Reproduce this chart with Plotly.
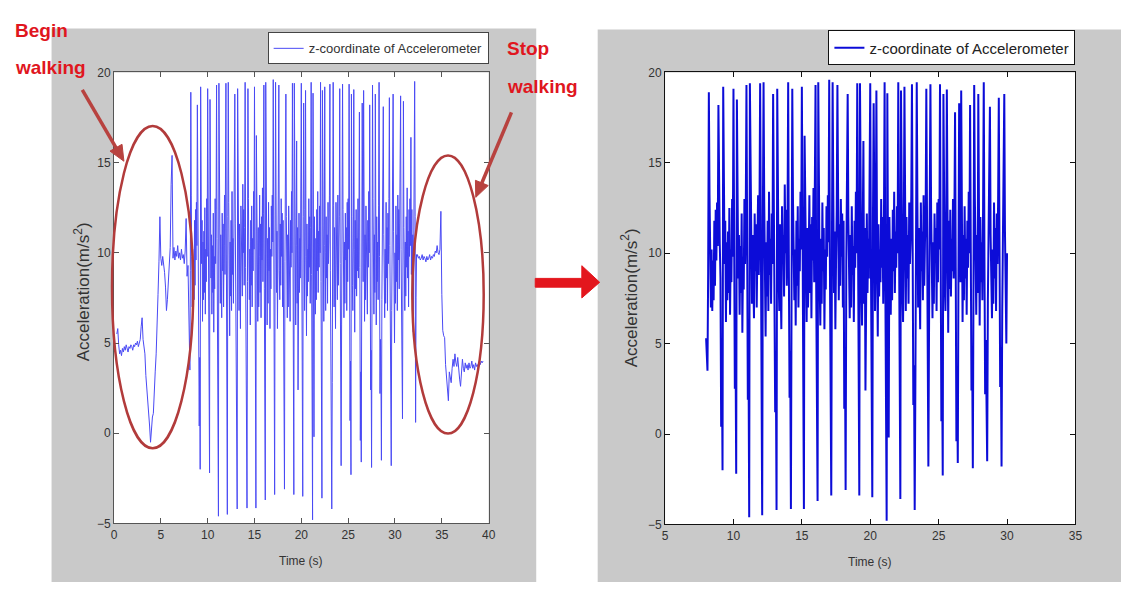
import math
import plotly.graph_objects as go

W, H = 1128, 589

# z-axis acceleration while standing, before the first step (10 Hz, from t = 0.3 s)
rest_before_fs = 10.0
rest_before_t0 = 0.3
rest_before_z = [
    5.5, 5.8, 4.9, 4.4, 4.6, 4.3, 4.7,
    4.5, 4.8, 4.6, 4.9, 4.7, 4.5, 4.8, 4.7, 4.9, 4.8,
    4.6, 4.9, 4.8, 5.0, 4.9, 5.1, 4.8, 5.0, 5.2, 5.9,
    6.4, 5.2, 4.6, 4.4, 3.2, 2.6, 1.8, 1.2, 0.4, -0.5,
    0.6, 0.9, 1.1, 2.6, 3.4, 4.4, 5.6, 7.7, 9.5, 12.0,
    9.7, 9.3, 9.8, 9.4, 8.9, 8.1, 6.8, 7.4, 8.6, 9.5,
    10.3, 13.8, 15.4, 9.7, 10.3, 9.6, 10.1, 9.8, 10.4, 9.7,
    10.0, 9.6, 10.2, 9.7, 9.9, 9.4, 10.1, 11.9, 8.7, 9.3,
]

# z-axis acceleration while walking (20 Hz, from t = 8.0 s to 32.35 s), one row per stride
walk_fs = 20.0
walk_t0 = 8.0
walk_z = [
    5.3, 4.6, 3.5, 9.0, 18.9, 13.2, 9.8, 7.0, 10.2, 6.8, 9.6, 7.4, 11.8, 8.2, 12.4, 9.6, 12.8, 10.4, 18.2, 12.6, 10.5, 8.6, 0.4, 4.2,
    -2.0, 19.2, 12.6, 9.4, 11.8, 6.2, 10.6, 7.4, 11.2, 7.8, 12.5, 6.6, 10.2, 8.4, 13.0, 9.8, 19.1, 10.4, 2.5, 5.0,
    -2.2, 18.5, 11.8, 8.6, 11.0, 6.6, 10.4, 7.8, 12.2, 5.6, 9.8, 8.0, 13.0, 9.4, 12.4, 19.3, 10.8, 1.9, 4.4,
    -4.6, 19.4, 13.5, 9.0, 7.2, 11.0, 8.4, 6.4, 12.2, 9.0, 11.6, 7.0, 10.4, 13.2, 8.8, 12.0, 19.4, 9.6, 0.8,
    -4.5, 12.0, 19.45, 12.8, 8.6, 5.4, 10.6, 7.6, 11.8, 6.8, 13.4, 8.8, 10.8, 7.2, 12.2, 9.4, 18.8, 11.6, 6.8, 1.2, 3.6,
    -4.2, 19.1, 12.0, 8.8, 6.8, 11.6, 8.2, 5.8, 12.6, 9.4, 11.0, 7.6, 13.8, 10.0, 12.4, 8.2, 11.4, 19.45, 9.2, 2.0, 4.6,
    -4.15, 8.4, 19.1, 13.0, 9.6, 7.4, 10.2, 6.0, 11.8, 8.2, 12.6, 7.0, 10.8, 9.0, 13.4, 10.2, 19.2, 8.6, 1.5,
    -4.15, 16.5, 12.4, 8.8, 6.2, 11.4, 7.0, 9.8, 13.2, 7.8, 11.6, 6.4, 12.0, 9.6, 13.6, 8.4, 12.2, 19.3, 8.0, 0.9,
    -3.7, 19.45, 12.0, 8.4, 6.0, 10.8, 7.2, 12.8, 9.0, 11.4, 5.8, 10.2, 8.0, 12.6, 9.8, 13.2, 10.6, 19.6, 9.4, 2.6,
    -3.4, 10.6, 19.45, 13.2, 7.8, 11.2, 5.8, 9.6, 12.4, 19.3, 9.0, 7.4, 11.6, 8.2, 13.0, 9.8, 12.2, 7.0, 11.8, 1.4, 4.8,
    -3.1, 9.5, 14.0, 18.8, 12.0, 8.6, 6.4, 11.0, 7.0, 12.6, 8.8, 10.4, 6.2, 11.8, 9.2, 13.4, 10.0, 19.4, 11.2, 3.0,
    -3.4, 19.4, 11.0, 8.2, 6.0, 10.4, 16.2, 7.2, 11.4, 2.4, 9.6, 12.2, 7.8, 10.8, 8.6, 13.0, 19.4, 9.6, 1.0,
    -3.5, 12.0, 18.3, 12.4, 6.8, 10.6, 19.0, 9.8, 5.4, 11.6, 7.6, 10.2, 8.4, 13.0, 9.2, 12.0, 7.2, 11.4, 19.45, 8.8, 2.2,
    -4.8, 18.85, 10.4, -0.2, 12.0, 8.2, 6.6, 10.8, 7.4, 12.4, 9.0, 13.4, 7.8, 11.2, 9.2, 12.6, 10.0, 19.45, 8.4, 2.0,
    -3.6, 19.0, 12.2, 8.0, 6.2, 10.4, 19.2, 10.0, 6.8, 12.0, 8.6, 11.0, 7.2, 12.8, 9.4, 10.6, 13.2, 19.35, 9.0, 1.6, 3.8,
    -4.2, 2.8, 11.0, 19.45, 12.6, 7.0, 11.4, 8.6, 5.8, 12.8, 9.0, 11.2, 7.4, 13.2, 8.2, 10.6, 12.0, 19.1, 9.4, 1.8,
    -1.8, 6.0, 11.0, 19.35, 12.4, 8.8, 6.4, 10.6, 7.2, 12.2, 9.6, 11.4, 6.8, 12.8, 8.4, 13.0, 10.2, 19.35, 9.8, 0.7, 4.0,
    -2.3, 18.8, 12.0, 8.2, 6.8, 10.6, 19.05, 10.2, 5.6, 11.8, 8.0, 12.4, 7.6, 10.8, 9.0, 13.0, 8.6, 11.6, 17.8, 9.2, -0.4, 3.4,
    -1.6, 9.0, 18.3, 12.6, 8.4, 19.0, 9.4, 6.2, 11.0, 7.4, 12.6, 8.6, 10.8, 6.6, 11.8, 9.2, 13.4, 10.0, 18.2, 8.8, 2.4, 4.6,
    -1.9, 8.6, 19.3, 13.0, 8.8, 6.6, 11.0, 7.8, 18.8, 10.4, 6.0, 12.0, 8.4, 10.6, 7.4, 12.6, 19.45, 9.8, 2.2, 5.2, 3.0,
    -1.5, 7.4, 12.4, 14.8, 18.1, 11.0, 8.2, 6.4, 10.2, 7.2, 12.8, 8.6, 11.4, 6.8, 12.2, 9.4, 13.0, 18.6, 10.4, 2.6, 4.8,
    -1.8, 6.8, 12.4, 16.0, 18.8, 11.2, 7.4, 5.0, 10.0, 7.2, 12.6, 8.4, 11.0, 6.8, 13.2, 9.6, 12.4, 8.0, 11.6, 13.8, 18.7, 10.2, 4.0, 2.2,
    0.8, 9.6, 18.4, 11.4, 8.4, 6.8, 10.6, 7.6, 12.0, 9.2, 13.6, 8.6, 11.2, 7.0, 12.4, 9.8, 13.0, 10.4, 16.4, 8.8, 12.4, 7.4, 11.0, 5.6, 9.8, 13.6, 19.5, 12.0,
    0.6, 7.5, 9.9, 9.8,
]

# z-axis acceleration after stopping (10 Hz, from t = 32.4 s)
rest_after_fs = 10.0
rest_after_t0 = 32.4
rest_after_z = [
    9.9, 9.7, 9.8, 9.6, 9.7, 9.9, 9.6, 9.8, 9.7, 9.5,
    9.8, 9.6, 9.7, 9.9, 9.6, 9.8, 9.7, 9.9, 9.8, 10.1,
    10.0, 10.4, 10.0, 9.9, 10.2, 12.3, 7.7, 5.7, 5.4, 5.3,
    3.8, 2.9, 2.4, 1.8, 3.4, 2.9, 2.8, 3.6, 4.1, 3.7,
    4.4, 3.9, 3.7, 4.2, 3.4, 3.0, 2.6, 3.5, 4.1, 3.6,
    3.4, 3.9, 3.6, 3.8, 3.5, 3.9, 3.6, 3.7, 4.0, 3.6,
    3.8, 3.5, 3.9, 3.7, 3.8, 3.6, 3.9, 3.8, 4.0, 3.9, 4.0,
]

# the extracted walking segment ends here
segment_end = 30.0

x_ticks_full = [0, 5, 10, 15, 20, 25, 30, 35, 40]
x_ticks_walk = [5, 10, 15, 20, 25, 30, 35]
y_ticks = [-5, 0, 5, 10, 15, 20]

legend_label = "z-coordinate of Accelerometer"
x_title = "Time (s)"
y_title = "Acceleration(m/s<sup>2</sup>)"


def times(t0, fs, values):
    return [round(t0 + i / fs, 3) for i in range(len(values))]


walk_t = times(walk_t0, walk_fs, walk_z)
full_t = (times(rest_before_t0, rest_before_fs, rest_before_z) + walk_t
          + times(rest_after_t0, rest_after_fs, rest_after_z))
full_z = rest_before_z + walk_z + rest_after_z

seg_t = [t for t in walk_t if t <= segment_end + 1e-9]
seg_z = walk_z[:len(seg_t)]


def px(x):
    return x / W


def py(y):
    return 1 - y / H


# plot boxes in pixels: (left, right, top, bottom)
box_l = (112, 490, 67, 529)
box_r = (668, 1082, 67, 530)

fig = go.Figure()
fig.add_trace(go.Scatter(
    x=full_t, y=full_z, mode="lines", name=legend_label,
    line=dict(color="#4a4af4", width=1), xaxis="x", yaxis="y", legend="legend",
))
fig.add_trace(go.Scatter(
    x=seg_t, y=seg_z, mode="lines", name=legend_label,
    line=dict(color="#0c0cd8", width=2), xaxis="x2", yaxis="y2", legend="legend2",
))

base_font = "Liberation Sans, Arial, sans-serif"
tick_font = dict(family=base_font, size=12, color="#333333")


def axis_style(line_color):
    return dict(
        showline=True, linecolor=line_color, linewidth=1, mirror="ticks",
        ticks="inside", ticklen=5, tickcolor=line_color, tickwidth=1,
        showgrid=False, zeroline=False, tickfont=tick_font,
    )


fig.update_layout(
    width=W, height=H,
    margin=dict(l=0, r=0, t=0, b=0),
    paper_bgcolor="white", plot_bgcolor="white",
    xaxis=dict(domain=[px(box_l[0]), px(box_l[1])], range=[0, 40],
               tickvals=x_ticks_full, anchor="y", **axis_style("#555555")),
    yaxis=dict(domain=[py(box_l[3]), py(box_l[2])], range=[-5, 20],
               tickvals=y_ticks, anchor="x", **axis_style("#555555")),
    xaxis2=dict(domain=[px(box_r[0]), px(box_r[1])], range=[5, 35],
                tickvals=x_ticks_walk, anchor="y2", **axis_style("#111111")),
    yaxis2=dict(domain=[py(box_r[3]), py(box_r[2])], range=[-5, 20],
                tickvals=y_ticks, anchor="x2", **axis_style("#111111")),
    legend=dict(x=px(490), y=py(26), xanchor="right", yanchor="top",
                bgcolor="white", bordercolor="#444444", borderwidth=1,
                font=dict(family=base_font, size=13, color="#333333")),
    legend2=dict(x=px(box_r[1]), y=py(24), xanchor="right", yanchor="top",
                 bgcolor="white", bordercolor="#111111", borderwidth=1,
                 font=dict(family=base_font, size=15, color="#222222")),
    showlegend=True,
)

shapes = []
# grey figure panels and white plot boxes
shapes.append(dict(type="rect", xref="paper", yref="paper", layer="below",
                   x0=px(49), x1=px(538), y0=py(589), y1=py(22),
                   fillcolor="#c9c9c9", line=dict(width=0)))
shapes.append(dict(type="rect", xref="paper", yref="paper", layer="below",
                   x0=px(600), x1=px(1128), y0=py(589), y1=py(23),
                   fillcolor="#c9c9c9", line=dict(width=0)))
for b in (box_l, box_r):
    shapes.append(dict(type="rect", xref="paper", yref="paper", layer="below",
                       x0=px(b[0]), x1=px(b[1]), y0=py(b[3]), y1=py(b[2]),
                       fillcolor="white", line=dict(width=0)))

# ellipses marking the start and stop of walking
ring = dict(color="#b23b3b", width=2.5)
shapes.append(dict(type="circle", xref="paper", yref="paper", layer="above",
                   x0=px(110), x1=px(192), y0=py(452), y1=py(122), line=ring))
shapes.append(dict(type="circle", xref="paper", yref="paper", layer="above",
                   x0=px(413), x1=px(485), y0=py(437), y1=py(152), line=ring))


def pointer(tail, tip, color, width, head_len, head_half):
    """Straight arrow from tail to tip (pixel coordinates) as a line plus a filled head."""
    dx, dy = tip[0] - tail[0], tip[1] - tail[1]
    n = math.hypot(dx, dy)
    ux, uy = dx / n, dy / n
    bx, by = tip[0] - head_len * ux, tip[1] - head_len * uy
    c1 = (bx - head_half * uy, by + head_half * ux)
    c2 = (bx + head_half * uy, by - head_half * ux)
    line = dict(type="line", xref="paper", yref="paper",
                x0=px(tail[0]), y0=py(tail[1]), x1=px(bx + 2 * ux), y1=py(by + 2 * uy),
                line=dict(color=color, width=width))
    pts = [tip, c1, c2]
    head = dict(type="path", xref="paper", yref="paper",
                path="M " + " L ".join(f"{px(x):.5f},{py(y):.5f}" for x, y in pts) + " Z",
                fillcolor=color, line=dict(color=color, width=1))
    return [line, head]


shapes += pointer((80, 85), (122, 158), "#b8423f", 3.5, 16, 7)
shapes += pointer((513, 108), (477, 195), "#b8423f", 3.5, 16, 7)

# red arrow between the two panels
arrow_pts = [(537, 278), (584, 278), (584, 265), (602, 282), (584, 298), (584, 287), (537, 287)]
path = "M " + " L ".join(f"{px(x):.5f},{py(y):.5f}" for x, y in arrow_pts) + " Z"
shapes.append(dict(type="path", xref="paper", yref="paper", path=path,
                   fillcolor="#e3161d", line=dict(color="#e3161d", width=1)))
fig.update_layout(shapes=shapes)

label_font = dict(family=base_font, size=12, color="#333333")
ytitle_font = dict(family=base_font, size=17, color="#333333")
callout_font = dict(family=base_font, size=19, color="#e0161e", weight="bold")

annotations = [
    dict(text=x_title, x=px((box_l[0] + box_l[1]) / 2), y=py(568), font=label_font),
    dict(text=x_title, x=px((box_r[0] + box_r[1]) / 2), y=py(569), font=label_font),
    dict(text=y_title, x=px(80), y=py(292), textangle=-90, font=ytitle_font),
    dict(text=y_title, x=px(632), y=py(298), textangle=-90, font=ytitle_font),
    dict(text="Begin", x=px(10), y=py(24), xanchor="left", font=callout_font),
    dict(text="walking", x=px(10), y=py(62), xanchor="left", font=callout_font),
    dict(text="Stop", x=px(506), y=py(43), xanchor="left", font=callout_font),
    dict(text="walking", x=px(506), y=py(81), xanchor="left", font=callout_font),
]
for a in annotations:
    a.update(xref="paper", yref="paper", showarrow=False, yanchor="middle")
    a.setdefault("xanchor", "center")
fig.update_layout(annotations=annotations)

fig.write_html("out.html", config={"displayModeBar": False})
